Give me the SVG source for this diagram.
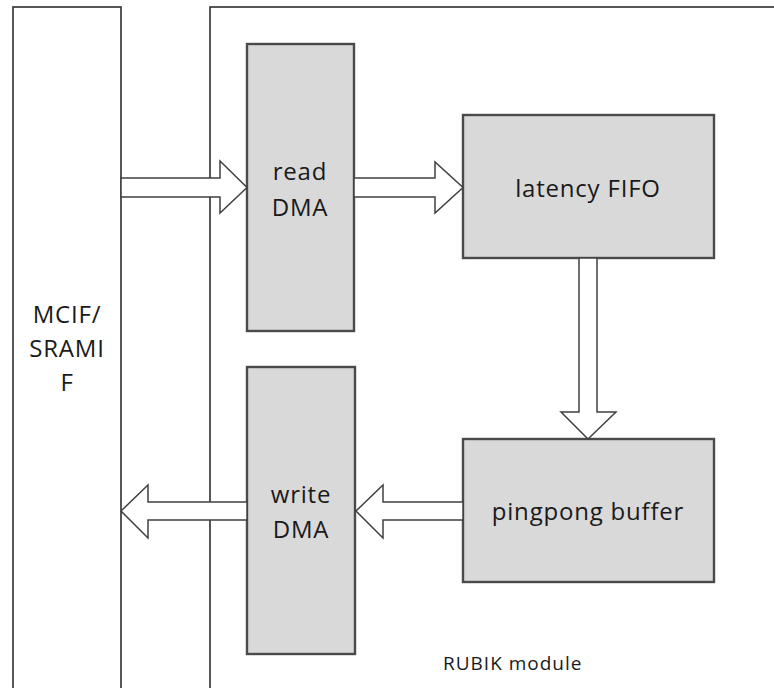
<svg xmlns="http://www.w3.org/2000/svg" width="774" height="688" viewBox="0 0 774 688">
  <style>
    .frame { fill: #ffffff; stroke: #3a3a3a; stroke-width: 1.7; }
    .block { fill: #d9d9d9; stroke: #4a4a4a; stroke-width: 2.4; }
    .arrow { fill: #ffffff; stroke: #404040; stroke-width: 1.5; stroke-linejoin: miter; }
    .label { font-family: "Open Sans", "Liberation Sans", sans-serif; font-size: 24px; letter-spacing: 0.8px; fill: #1a1a1a; text-anchor: middle; dominant-baseline: central; }
    .small { font-family: "Open Sans", "Liberation Sans", sans-serif; font-size: 19px; letter-spacing: 1px; fill: #1a1a1a; }
  </style>

  <rect width="774" height="688" fill="#ffffff"/>

  <!-- memory interface column -->
  <g id="mcif">
    <rect class="frame" x="13" y="7" width="108" height="700"/>
    <text class="label" x="67" y="313">MCIF/</text>
    <text class="label" x="67" y="347">SRAMI</text>
    <text class="label" x="67" y="381">F</text>
  </g>

  <!-- enclosing module -->
  <g id="rubik">
    <rect class="frame" x="210" y="7" width="600" height="700"/>
    <text class="small" x="443" y="670">RUBIK module</text>
  </g>

  <g id="read-dma">
    <rect class="block" x="247" y="44" width="107" height="287"/>
    <text class="label" x="300" y="170">read</text>
    <text class="label" x="300" y="206">DMA</text>
  </g>

  <g id="latency-fifo">
    <rect class="block" x="463" y="115" width="251" height="143"/>
    <text class="label" x="588" y="187">latency FIFO</text>
  </g>

  <g id="pingpong-buffer">
    <rect class="block" x="463" y="439" width="251" height="143"/>
    <text class="label" x="588" y="510">pingpong buffer</text>
  </g>

  <g id="write-dma">
    <rect class="block" x="247" y="367" width="108" height="287"/>
    <text class="label" x="301" y="493">write</text>
    <text class="label" x="301" y="528">DMA</text>
  </g>

  <!-- block arrows -->
  <g id="connectors">
    <path class="arrow" d="M121,178 H220 V161 L247,187.5 L220,213 V197 H121 Z"/>
    <path class="arrow" d="M354,178 H435 V162 L463,187.5 L435,213 V197 H354 Z"/>
    <path class="arrow" d="M579,258 V412 H561 L588,439 L616,412 H597 V258 Z"/>
    <path class="arrow" d="M463,502 H383 V485 L356,511 L383,538 V520 H463 Z"/>
    <path class="arrow" d="M247,502 H148 V485 L121,511 L148,538 V520 H247 Z"/>
  </g>
</svg>
